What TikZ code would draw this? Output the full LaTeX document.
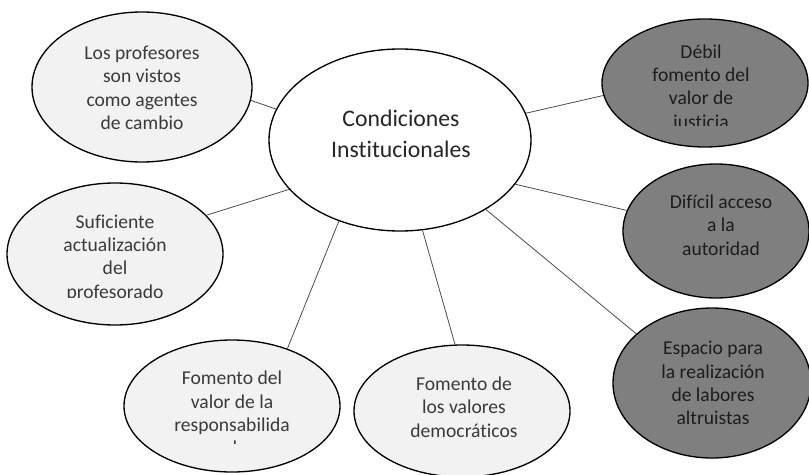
\documentclass[tikz,border=0pt]{standalone}
\usepackage{fontspec}
\setmainfont{Carlito}[RawFeature={-liga;-clig;-dlig}]
\usetikzlibrary{shapes.geometric}
\definecolor{lightfill}{HTML}{F2F2F2}
\definecolor{darkfill}{HTML}{7F7F7F}
\definecolor{txtgray}{HTML}{3A3A3A}
\definecolor{txtdark}{HTML}{1C1C1C}
\tikzset{
  bubble/.style n args={2}{ellipse, draw=black, line width=1pt, inner sep=0pt,
    minimum width=#1*0.75pt, minimum height=#2*0.75pt},
  lightb/.style={fill=lightfill},
  darkb/.style={fill=darkfill},
  btext/.style={align=center, font=\fontsize{14.7}{17.5}\selectfont, text=txtgray, inner sep=0pt},
  dtext/.style={btext, text=txtdark},
  ctext/.style={align=center, font=\fontsize{17.8}{23}\selectfont, text=black!85, inner sep=0pt},
  link/.style={draw=black!70, line width=0.6pt},
}
\begin{document}
\begin{tikzpicture}[x=0.75pt,y=-0.75pt]
\useasboundingbox (0,0) rectangle (809,474);
% bubbles
\node[bubble={262}{182}, fill=white] (c) at (400,140) {};
\node[bubble={220}{150}, lightb] (p1) at (142,87) {};
\node[bubble={216}{142}, lightb] (p2) at (115,254) {};
\node[bubble={216}{132}, lightb] (p3) at (232,406) {};
\node[bubble={216}{132}, lightb] (p4) at (462,411) {};
\node[bubble={198}{150}, darkb] (p5) at (712,383) {};
\node[bubble={186}{134}, darkb] (p6) at (716,231) {};
\node[bubble={206}{128}, darkb] (p7) at (705,83) {};
% connectors
\draw[link] (p1.-7) -- (c.166);
\draw[link] (p2.23) -- (c.-156);
\draw[link] (p3.46) -- (c.-127);
\draw[link] (p4.96) -- (c.-76);
\draw[link] (p5.147) -- (c.-39);
\draw[link] (p6.167) -- (c.-21.5);
\draw[link] (p7.-173) -- (c.12);
% texts
\node[ctext] (ct) at (401,134) {Condiciones\\Institucionales};
\node[btext] (t1) at (142,88) {Los profesores\\son vistos\\como agentes\\de cambio};
\begin{scope}
  \clip (600,0) rectangle (809,126);
  \node[dtext] (t7) at (701,88) {Débil\\fomento del\\valor de\\justicia};
\end{scope}
\begin{scope}
  \clip (0,150) rectangle (300,297);
  \node[btext] (t2) at (115,258) {Suficiente\\actualización\\del\\profesorado};
\end{scope}
\node[dtext] (t6) at (721,225) {Difícil acceso\\a la\\autoridad};
\node[dtext] (t5) at (713,383) {Espacio para\\la realización\\de labores\\altruistas};
\begin{scope}
  \clip (100,330) rectangle (360,443.5);
  \node[btext] (t3) at (232,413) {Fomento del\\valor de la\\responsabilida\\d};
\end{scope}
\node[btext] (t4) at (464,407) {Fomento de\\los valores\\democráticos};
\end{tikzpicture}
\end{document}
